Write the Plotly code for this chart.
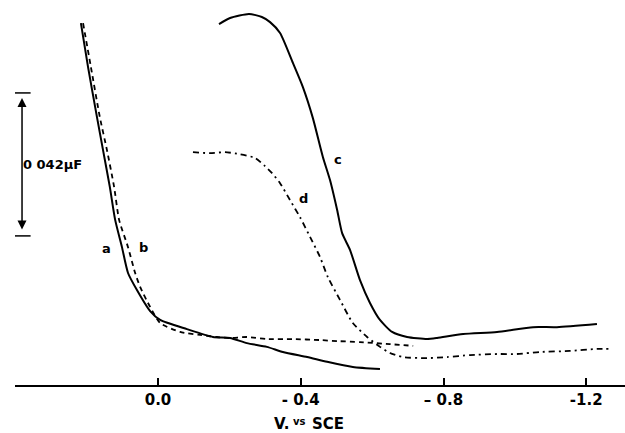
import plotly.graph_objects as go

# ---- data (potential V vs SCE, differential capacitance in µF, relative to axis) ----
V_a = [0.216, 0.196, 0.171, 0.154, 0.135, 0.120, 0.101, 0.084, 0.059, 0.022, -0.006,
       -0.081, -0.154, -0.202, -0.249, -0.305, -0.350, -0.418, -0.474, -0.546, -0.622]
C_a = [0.1063, 0.0934, 0.0787, 0.0690, 0.0582, 0.0485, 0.0405, 0.0329, 0.0279, 0.0217, 0.0191,
       0.0164, 0.0141, 0.0138, 0.0123, 0.0112, 0.0097, 0.0082, 0.0068, 0.0053, 0.0047]

V_b = [0.210, 0.188, 0.163, 0.143, 0.123, 0.109, 0.084, 0.064, 0.050, 0.022, -0.006, -0.062,
       -0.118, -0.165, -0.202, -0.249, -0.305, -0.378, -0.454, -0.502, -0.566, -0.650, -0.715]
C_b = [0.1063, 0.0934, 0.0787, 0.0690, 0.0582, 0.0485, 0.0405, 0.0329, 0.0288, 0.0229, 0.0182, 0.0156,
       0.0147, 0.0141, 0.0138, 0.0141, 0.0135, 0.0135, 0.0132, 0.0129, 0.0126, 0.0120, 0.0115]

V_c = [-0.171, -0.202, -0.255, -0.291, -0.314, -0.342, -0.378, -0.406, -0.434, -0.462, -0.482,
       -0.502, -0.516, -0.538, -0.566, -0.594, -0.622, -0.656, -0.698, -0.754, -0.782, -0.855,
       -0.950, -1.051, -1.118, -1.230]
C_c = [0.1060, 0.1078, 0.1090, 0.1081, 0.1066, 0.1034, 0.0946, 0.0875, 0.0784, 0.0670, 0.0602,
       0.0514, 0.0446, 0.0397, 0.0308, 0.0241, 0.0191, 0.0156, 0.0141, 0.0135, 0.0138, 0.0150,
       0.0156, 0.0170, 0.0170, 0.0179]

V_d = [-0.098, -0.146, -0.188, -0.230, -0.272, -0.300, -0.319, -0.342, -0.370, -0.398, -0.426,
       -0.454, -0.476, -0.510, -0.546, -0.586, -0.622, -0.650, -0.686, -0.754, -0.810, -0.874,
       -0.950, -1.006, -1.070, -1.154, -1.230, -1.267]
C_d = [0.0684, 0.0681, 0.0684, 0.0678, 0.0667, 0.0643, 0.0623, 0.0593, 0.0543, 0.0493, 0.0435,
       0.0376, 0.0317, 0.0250, 0.0182, 0.0141, 0.0112, 0.0094, 0.0082, 0.0079, 0.0082, 0.0088,
       0.0091, 0.0091, 0.0097, 0.0100, 0.0106, 0.0106]

tick_vals = [0.0, -0.4, -0.8, -1.2]
tick_text = ["0.0", "- 0.4", "\u2013 0.8", "-1.2"]

curve_labels = ["a", "b", "c", "d"]
label_V = [0.143, 0.042, -0.504, -0.409]
label_C = [0.0402, 0.0405, 0.0661, 0.0549]

SCALE_BAR = 0.042      # µF
SCALE_TOP = 0.0858
SCALE_V = 0.381

X_RANGE = [0.4007, -1.3086]
Y_RANGE = [0.0, 0.1131]

FONT = "DejaVu Sans, Arial, sans-serif"

fig = go.Figure()
styles = [
    (V_a, C_a, "solid", 2.0),
    (V_b, C_b, "5px,4px", 1.8),
    (V_c, C_c, "solid", 2.0),
    (V_d, C_d, "6px,4px,2px,4px", 1.8),
]
for vx, cy, dash, w in styles:
    fig.add_trace(go.Scatter(x=vx, y=cy, mode="lines",
                             line=dict(color="black", width=w, dash=dash, shape="spline", smoothing=0.6),
                             showlegend=False, hoverinfo="skip"))

annotations = []
for t, lx, ly in zip(curve_labels, label_V, label_C):
    annotations.append(dict(x=lx, y=ly, xref="x", yref="y", text=f"<b>{t}</b>", showarrow=False,
                            font=dict(family=FONT, size=13, color="black")))

# scale bar
bot = SCALE_TOP - SCALE_BAR
annotations.append(dict(x=SCALE_V, y=SCALE_TOP, ax=SCALE_V, ay=bot, xref="x", yref="y",
                        axref="x", ayref="y", text="", showarrow=True, arrowside="end+start",
                        arrowhead=2, arrowsize=1.2, arrowwidth=1.5, arrowcolor="black",
                        standoff=5, startstandoff=5))
annotations.append(dict(x=SCALE_V + 0.003, y=(SCALE_TOP + bot) / 2, xref="x", yref="y",
                        text="<b>0 042µF</b>", showarrow=False, xanchor="left",
                        font=dict(family=FONT, size=13, color="black")))
shapes = []
for yy in (SCALE_TOP, bot):
    shapes.append(dict(type="line", xref="x", yref="y", x0=0.4007, x1=0.357, y0=yy, y1=yy,
                       line=dict(color="black", width=1.5)))

# axis title: "V." + raised small "vs" + "SCE"
annotations.append(dict(x=0.4525, y=-0.101, xref="paper", yref="paper", yanchor="middle",
                        xanchor="right", text="<b>V.</b>", showarrow=False,
                        font=dict(family=FONT, size=15, color="black")))
annotations.append(dict(x=0.4665, y=-0.094, xref="paper", yref="paper", yanchor="middle",
                        xanchor="center", text="<b>vs</b>", showarrow=False,
                        font=dict(family=FONT, size=10, color="black")))
annotations.append(dict(x=0.4830, y=-0.101, xref="paper", yref="paper", yanchor="middle",
                        xanchor="left", text="<b>SCE</b>", showarrow=False,
                        font=dict(family=FONT, size=15, color="black")))

fig.update_layout(
    width=625, height=433,
    margin=dict(l=15, r=0, t=0, b=48),
    paper_bgcolor="white", plot_bgcolor="white",
    annotations=annotations, shapes=shapes,
    xaxis=dict(range=X_RANGE, showgrid=False, zeroline=False, showline=True, linecolor="black",
               linewidth=2, ticks="inside", ticklen=7, tickwidth=1.5, tickcolor="black",
               tickvals=tick_vals, ticktext=[f"<b>{t}</b>" for t in tick_text],
               tickfont=dict(family=FONT, size=15, color="black")),
    yaxis=dict(range=Y_RANGE, visible=False, showgrid=False, zeroline=False),
)

fig.write_html("out.html")
